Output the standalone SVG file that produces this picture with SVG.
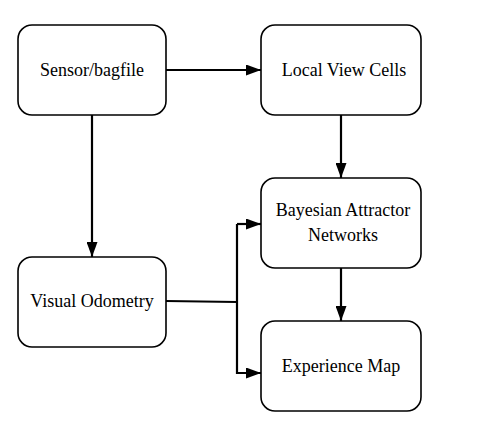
<svg xmlns="http://www.w3.org/2000/svg" width="485" height="441" viewBox="0 0 485 441">
<defs>
<marker id="ah" markerWidth="15" markerHeight="11" refX="15" refY="5.5" orient="auto" markerUnits="userSpaceOnUse">
<path d="M0,0 L15,5.5 L0,11 Z" fill="#000"/>
</marker>
<style>
.box{fill:#fff;stroke:#000;stroke-width:1.6}
text{font-family:'Liberation Serif','Times New Roman',serif;font-size:18px;fill:#000;text-anchor:middle}
.c{fill:none;stroke:#000;stroke-width:2.2}
</style>
</defs>
<rect width="485" height="441" fill="#fff"/>
<g id="connectors">
<path class="c" d="M166,70 L261,70" marker-end="url(#ah)"/>
<path class="c" d="M341,115 L341,178" marker-end="url(#ah)"/>
<path class="c" d="M92,115 L92,257" marker-end="url(#ah)"/>
<path class="c" d="M341,268 L341,321" marker-end="url(#ah)"/>
<path class="c" d="M166,301 L237,302"/>
<path class="c" d="M237,224 L237,373 L261,373" marker-end="url(#ah)"/>
<path class="c" d="M237,224 L261,224" marker-end="url(#ah)"/>
</g>
<g id="sensor">
<rect class="box" x="18" y="25" width="148" height="90" rx="14"/>
<text x="92" y="76">Sensor/bagfile</text>
</g>
<g id="localview">
<rect class="box" x="261" y="25" width="160" height="90" rx="14"/>
<text x="344" y="76">Local View Cells</text>
</g>
<g id="bayesian">
<rect class="box" x="261" y="178" width="160" height="90" rx="14"/>
<text x="343" y="216">Bayesian Attractor</text>
<text x="343" y="241">Networks</text>
</g>
<g id="visualodometry">
<rect class="box" x="18" y="257" width="148" height="90" rx="14"/>
<text x="92" y="307">Visual Odometry</text>
</g>
<g id="experiencemap">
<rect class="box" x="261" y="321" width="160" height="90" rx="14"/>
<text x="341" y="372">Experience Map</text>
</g>
</svg>
